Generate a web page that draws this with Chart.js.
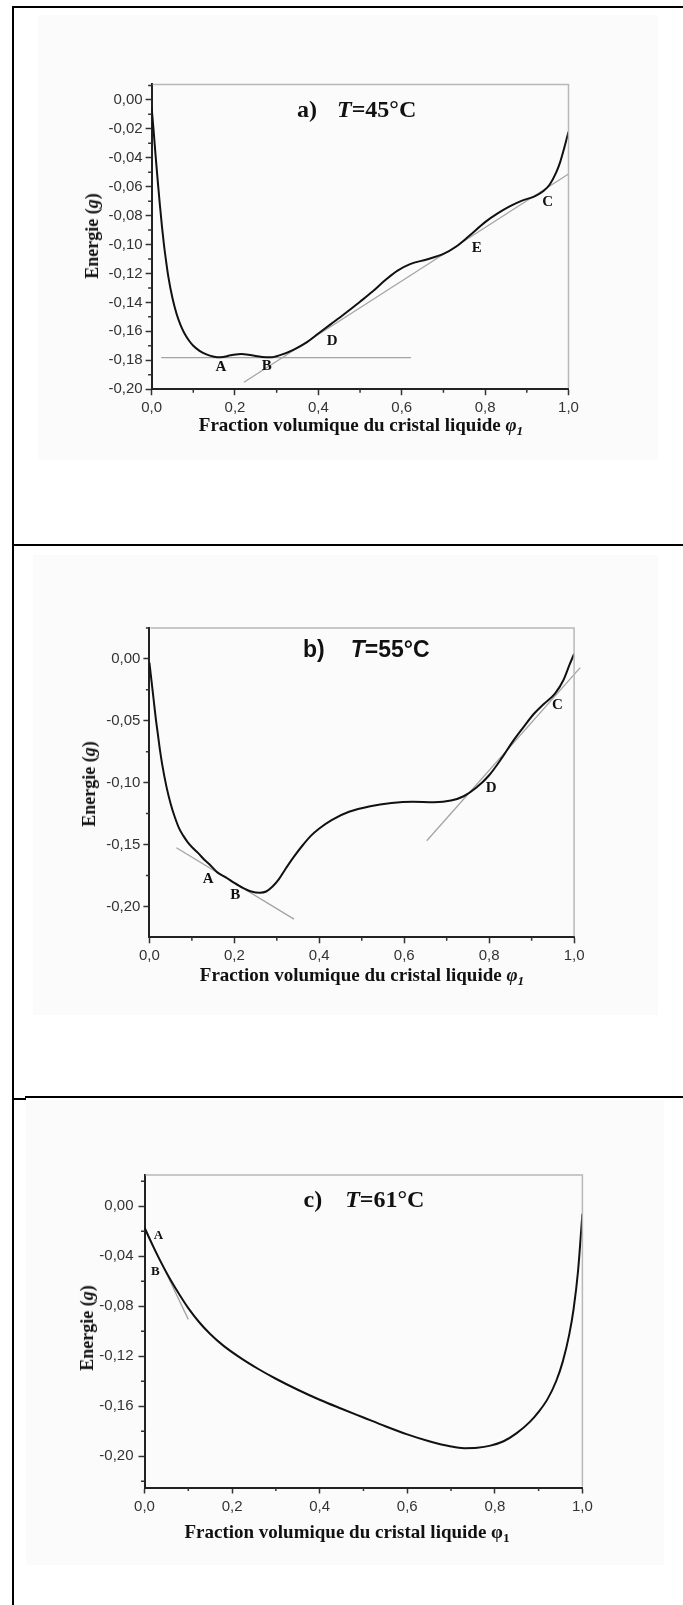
<!DOCTYPE html>
<html>
<head>
<meta charset="utf-8">
<script src="https://cdn.jsdelivr.net/npm/chart.js@4.4.1/dist/chart.umd.min.js"></script>
<style>
  html, body { margin: 0; padding: 0; background: #fff; }
  body { position: relative; width: 683px; height: 1605px; overflow: hidden; }
  .bg { position: absolute; background: #fbfbfb; }
  .rule { position: absolute; background: #000; z-index: 5; }
  canvas { position: absolute; left: 0; }
  .lbl { position: absolute; z-index: 4; white-space: nowrap; color: #111; line-height: 1; }
  .serif { font-family: "Liberation Serif", "Times New Roman", serif; font-weight: bold; }
  .sans { font-family: "Liberation Sans", Arial, sans-serif; font-weight: bold; }
  .ttl { transform: translateY(-50%); }
  .xt { transform: translate(-50%, -50%); font-size: 19px; }
  .yt { transform: translate(-50%, -50%) rotate(-90deg); font-size: 18px; }
  sub { font-size: 0.7em; vertical-align: -0.35em; line-height: 0; }
</style>
</head>
<body>
<div class="bg" style="left:38px;top:15px;width:620px;height:445px"></div>
<div class="bg" style="left:33px;top:555px;width:625px;height:460px"></div>
<div class="bg" style="left:26px;top:1100px;width:638px;height:465px"></div>

<canvas id="chartA" width="683" height="545" style="top:0"></canvas>
<canvas id="chartB" width="683" height="551" style="top:545px"></canvas>
<canvas id="chartC" width="683" height="509" style="top:1096px"></canvas>

<!-- frame rules -->
<div class="rule" style="left:12px;top:6px;width:2px;height:1599px"></div>
<div class="rule" style="left:12px;top:6px;width:671px;height:2px"></div>
<div class="rule" style="left:12px;top:544px;width:671px;height:2px"></div>
<div class="rule" style="left:25px;top:1096px;width:658px;height:1.5px"></div>
<div class="rule" style="left:14px;top:1098px;width:12px;height:1.5px"></div>

<!-- panel a texts -->
<div class="lbl serif ttl" style="left:297px;top:108.5px;font-size:24px">a)<span style="margin-left:20px"><i>T</i>=45°C</span></div>
<div class="lbl serif xt" style="left:361px;top:424px">Fraction volumique du cristal liquide <i>φ</i><sub><i>1</i></sub></div>
<div class="lbl serif yt" style="left:92px;top:236px">Energie (<i>g</i>)</div>

<!-- panel b texts -->
<div class="lbl sans ttl" style="left:303px;top:648.5px;font-size:23px">b)<span style="margin-left:26px"><i>T</i>=55°C</span></div>
<div class="lbl serif xt" style="left:362px;top:974px">Fraction volumique du cristal liquide <i>φ</i><sub><i>1</i></sub></div>
<div class="lbl serif yt" style="left:89px;top:784px">Energie (<i>g</i>)</div>

<!-- panel c texts -->
<div class="lbl serif ttl" style="left:303.5px;top:1198.5px;font-size:24px">c)<span style="margin-left:23px"><i>T</i>=61°C</span></div>
<div class="lbl serif xt" style="left:347px;top:1531px">Fraction volumique du cristal liquide φ<sub>1</sub></div>
<div class="lbl serif yt" style="left:87px;top:1328px">Energie (<i>g</i>)</div>

<script>
// ---------- shared axis ticks ----------
const xTicks = [0, 0.2, 0.4, 0.6, 0.8, 1.0];
const xTickLabels = ['0,0', '0,2', '0,4', '0,6', '0,8', '1,0'];
const xMinor = [0.1, 0.3, 0.5, 0.7, 0.9];

// ---------- a) T = 45 °C ----------
const phiA = [0, 0.005, 0.01, 0.015, 0.02, 0.025, 0.03, 0.035, 0.04, 0.05, 0.06, 0.07, 0.08, 0.09, 0.10,
  0.115, 0.13, 0.15, 0.165, 0.19, 0.215, 0.24, 0.265, 0.285, 0.31, 0.34, 0.37, 0.40, 0.43, 0.46,
  0.50, 0.53, 0.56, 0.59, 0.62, 0.66, 0.70, 0.73, 0.76, 0.80, 0.83, 0.86, 0.89, 0.92, 0.94, 0.955,
  0.97, 0.98, 0.99, 1.0];
const gA = [-0.005, -0.022, -0.040, -0.057, -0.073, -0.088, -0.101, -0.112, -0.122, -0.137, -0.148, -0.156, -0.162, -0.1665, -0.170,
  -0.1735, -0.1758, -0.1775, -0.1779, -0.1766, -0.1756, -0.1766, -0.1777, -0.1780, -0.1763, -0.1728, -0.168, -0.1615, -0.155, -0.1485,
  -0.1395, -0.1325, -0.1247, -0.118, -0.1135, -0.1103, -0.1065, -0.1015, -0.0945, -0.0845, -0.0785, -0.0735, -0.0695, -0.0665, -0.0630, -0.0585,
  -0.0505, -0.043, -0.033, -0.022];
const tanA1Phi = [0.023, 0.622];
const tanA1G = [-0.1782, -0.1782];
const tanA2Phi = [0.2215, 1.0];
const tanA2G = [-0.1952, -0.0512];
const yTicksA = [0, -0.02, -0.04, -0.06, -0.08, -0.10, -0.12, -0.14, -0.16, -0.18, -0.20];
const yTickLabelsA = ['0,00', '-0,02', '-0,04', '-0,06', '-0,08', '-0,10', '-0,12', '-0,14', '-0,16', '-0,18', '-0,20'];
const yMinorA = [0.01, -0.01, -0.03, -0.05, -0.07, -0.09, -0.11, -0.13, -0.15, -0.17, -0.19];
const lettersA = ['A', 'B', 'D', 'E', 'C'];
const letterPhiA = [0.166, 0.276, 0.433, 0.78, 0.95];
const letterGA = [-0.1845, -0.1838, -0.1667, -0.1024, -0.071];

// ---------- b) T = 55 °C ----------
const phiB = [0, 0.005, 0.01, 0.015, 0.02, 0.025, 0.03, 0.04, 0.05, 0.06, 0.07, 0.08, 0.09, 0.10, 0.115,
  0.13, 0.14, 0.16, 0.18, 0.20, 0.22, 0.24, 0.26, 0.275, 0.29, 0.305, 0.32, 0.34, 0.36, 0.38, 0.40,
  0.43, 0.47, 0.52, 0.57, 0.62, 0.67, 0.71, 0.74, 0.77, 0.80, 0.83, 0.855, 0.88, 0.905, 0.93, 0.955,
  0.975, 0.99, 1.0];
const gB = [-0.003, -0.018, -0.033, -0.048, -0.061, -0.074, -0.085, -0.103, -0.117, -0.128, -0.137, -0.143, -0.148, -0.152, -0.157,
  -0.1625, -0.1655, -0.1725, -0.1765, -0.181, -0.185, -0.188, -0.189, -0.188, -0.184, -0.178, -0.170, -0.160, -0.151, -0.143, -0.137,
  -0.130, -0.1235, -0.119, -0.1165, -0.1155, -0.1158, -0.1145, -0.111, -0.104, -0.094, -0.080, -0.067, -0.0555, -0.0445, -0.036, -0.028,
  -0.017, -0.004, 0.004];
const tanB1Phi = [0.0636, 0.3405];
const tanB1G = [-0.1526, -0.2103];
const tanB2Phi = [0.653, 1.0144];
const tanB2G = [-0.147, -0.007];
const yTicksB = [0, -0.05, -0.10, -0.15, -0.20];
const yTickLabelsB = ['0,00', '-0,05', '-0,10', '-0,15', '-0,20'];
const yMinorB = [0.025, -0.025, -0.075, -0.125, -0.175];
const lettersB = ['A', 'B', 'D', 'C'];
const letterPhiB = [0.1385, 0.202, 0.805, 0.961];
const letterGB = [-0.178, -0.191, -0.1045, -0.0376];

// ---------- c) T = 61 °C ----------
const phiC = [0, 0.01, 0.02, 0.03, 0.045, 0.06, 0.08, 0.10, 0.125, 0.15, 0.18, 0.22, 0.26, 0.30, 0.35,
  0.40, 0.45, 0.50, 0.55, 0.60, 0.65, 0.70, 0.73, 0.76, 0.79, 0.82, 0.85, 0.88, 0.90, 0.92, 0.94,
  0.955, 0.97, 0.98, 0.99, 1.0];
const gC = [-0.017, -0.0248, -0.0323, -0.0395, -0.0497, -0.0592, -0.0708, -0.0815, -0.0928, -0.1022, -0.1115, -0.1215, -0.1302, -0.138, -0.1468,
  -0.1548, -0.162, -0.169, -0.176, -0.1825, -0.188, -0.1922, -0.1935, -0.1932, -0.1915, -0.188, -0.1815, -0.1725, -0.1645, -0.1545, -0.140,
  -0.1245, -0.1025, -0.082, -0.052, -0.006];
const tanCPhi = [0.004, 0.10];
const tanCG = [-0.020, -0.0905];
const yTicksC = [0, -0.04, -0.08, -0.12, -0.16, -0.20];
const yTickLabelsC = ['0,00', '-0,04', '-0,08', '-0,12', '-0,16', '-0,20'];
const yMinorC = [0.02, -0.02, -0.06, -0.10, -0.14, -0.18, -0.22];
const lettersC = ['A', 'B'];
const letterPhiC = [0.032, 0.025];
const letterGC = [-0.0235, -0.052];

// ---------- drawing helpers ----------
const zip = (xs, ys) => xs.map((x, i) => ({ x, y: ys[i] }));

// light frame on top/right, minor tick marks and point letters
const panelExtras = {
  id: 'panelExtras',
  afterDraw(chart, args, opts) {
    const { ctx, chartArea: a, scales: { x, y } } = chart;
    ctx.save();
    ctx.strokeStyle = '#b8b8b8';
    ctx.lineWidth = 1.5;
    ctx.beginPath();
    ctx.moveTo(a.left + 1, a.top);
    ctx.lineTo(a.right, a.top);
    ctx.lineTo(a.right, a.bottom - 1);
    ctx.stroke();

    ctx.strokeStyle = '#333';
    ctx.lineWidth = 1.5;
    ctx.beginPath();
    opts.minorX.forEach(v => {
      const px = x.getPixelForValue(v);
      ctx.moveTo(px, a.bottom);
      ctx.lineTo(px, a.bottom + opts.minorLen);
    });
    opts.minorY.forEach(v => {
      const py = y.getPixelForValue(v);
      ctx.moveTo(a.left, py);
      ctx.lineTo(a.left - opts.minorLen, py);
    });
    ctx.stroke();

    ctx.fillStyle = '#111';
    ctx.font = opts.letterFont;
    ctx.textAlign = 'center';
    ctx.textBaseline = 'middle';
    opts.letters.forEach((t, i) => {
      ctx.fillText(t, x.getPixelForValue(opts.letterX[i]), y.getPixelForValue(opts.letterY[i]));
    });
    ctx.restore();
  }
};

function makePanel(id, p) {
  const curve = {
    data: zip(p.phi, p.g), borderColor: '#111', borderWidth: 2, pointRadius: 0,
    cubicInterpolationMode: 'monotone', order: 0
  };
  const tangents = p.tangents.map(t => ({
    data: zip(t[0], t[1]), borderColor: '#a4a4a4', borderWidth: 1.3, pointRadius: 0,
    tension: 0, order: 1, clip: false
  }));
  const tickFont = { family: 'Liberation Sans', size: 15 };
  return new Chart(document.getElementById(id), {
    type: 'line',
    data: { datasets: [curve, ...tangents] },
    options: {
      responsive: false,
      animation: false,
      events: [],
      layout: { padding: p.padding },
      plugins: {
        legend: { display: false },
        tooltip: { enabled: false },
        panelExtras: {
          minorX: xMinor, minorY: p.yMinor, minorLen: 3.5,
          letters: p.letters, letterX: p.letterX, letterY: p.letterY,
          letterFont: p.letterFont
        }
      },
      scales: {
        x: {
          type: 'linear', min: 0, max: 1,
          afterBuildTicks: s => { s.ticks = xTicks.map(v => ({ value: v })); },
          afterFit: s => { s.height = 40; },
          ticks: {
            callback: (v, i) => xTickLabels[i], font: tickFont, color: '#333',
            padding: 4, maxRotation: 0, autoSkip: false
          },
          grid: { drawOnChartArea: false, drawTicks: true, tickLength: 6, tickColor: '#333', tickWidth: 1.5 },
          border: { display: true, color: '#222', width: 2 }
        },
        y: {
          type: 'linear', min: p.yMin, max: p.yMax,
          afterBuildTicks: s => { s.ticks = p.yTicks.map(v => ({ value: v })); },
          afterFit: s => { s.width = 70; },
          ticks: {
            callback: (v, i) => p.yTickLabels[i], font: tickFont, color: '#333',
            padding: p.yPad, autoSkip: false
          },
          grid: { drawOnChartArea: false, drawTicks: true, tickLength: 6, tickColor: '#333', tickWidth: 1.5 },
          border: { display: true, color: '#222', width: 2 }
        }
      }
    },
    plugins: [panelExtras]
  });
}

makePanel('chartA', {
  phi: phiA, g: gA, tangents: [[tanA1Phi, tanA1G], [tanA2Phi, tanA2G]],
  yMin: -0.20, yMax: 0.0107, yTicks: yTicksA, yTickLabels: yTickLabelsA, yMinor: yMinorA, yPad: 3,
  letters: lettersA, letterX: letterPhiA, letterY: letterGA,
  letterFont: 'bold 15px "Liberation Serif"',
  padding: { left: 81.6, right: 114.5, top: 84.4, bottom: 115.8 }
});

makePanel('chartB', {
  phi: phiB, g: gB, tangents: [[tanB1Phi, tanB1G], [tanB2Phi, tanB2G]],
  yMin: -0.225, yMax: 0.025, yTicks: yTicksB, yTickLabels: yTickLabelsB, yMinor: yMinorB, yPad: 3,
  letters: lettersB, letterX: letterPhiB, letterY: letterGB,
  letterFont: 'bold 15px "Liberation Serif"',
  padding: { left: 79.4, right: 108.9, top: 83, bottom: 118.7 }
});

makePanel('chartC', {
  phi: phiC, g: gC, tangents: [[tanCPhi, tanCG]],
  yMin: -0.225, yMax: 0.025, yTicks: yTicksC, yTickLabels: yTickLabelsC, yMinor: yMinorC, yPad: 5,
  letters: lettersC, letterX: letterPhiC, letterY: letterGC,
  letterFont: 'bold 13px "Liberation Serif"',
  padding: { left: 74.5, right: 100.6, top: 79, bottom: 77.5 }
});
</script>
</body>
</html>
